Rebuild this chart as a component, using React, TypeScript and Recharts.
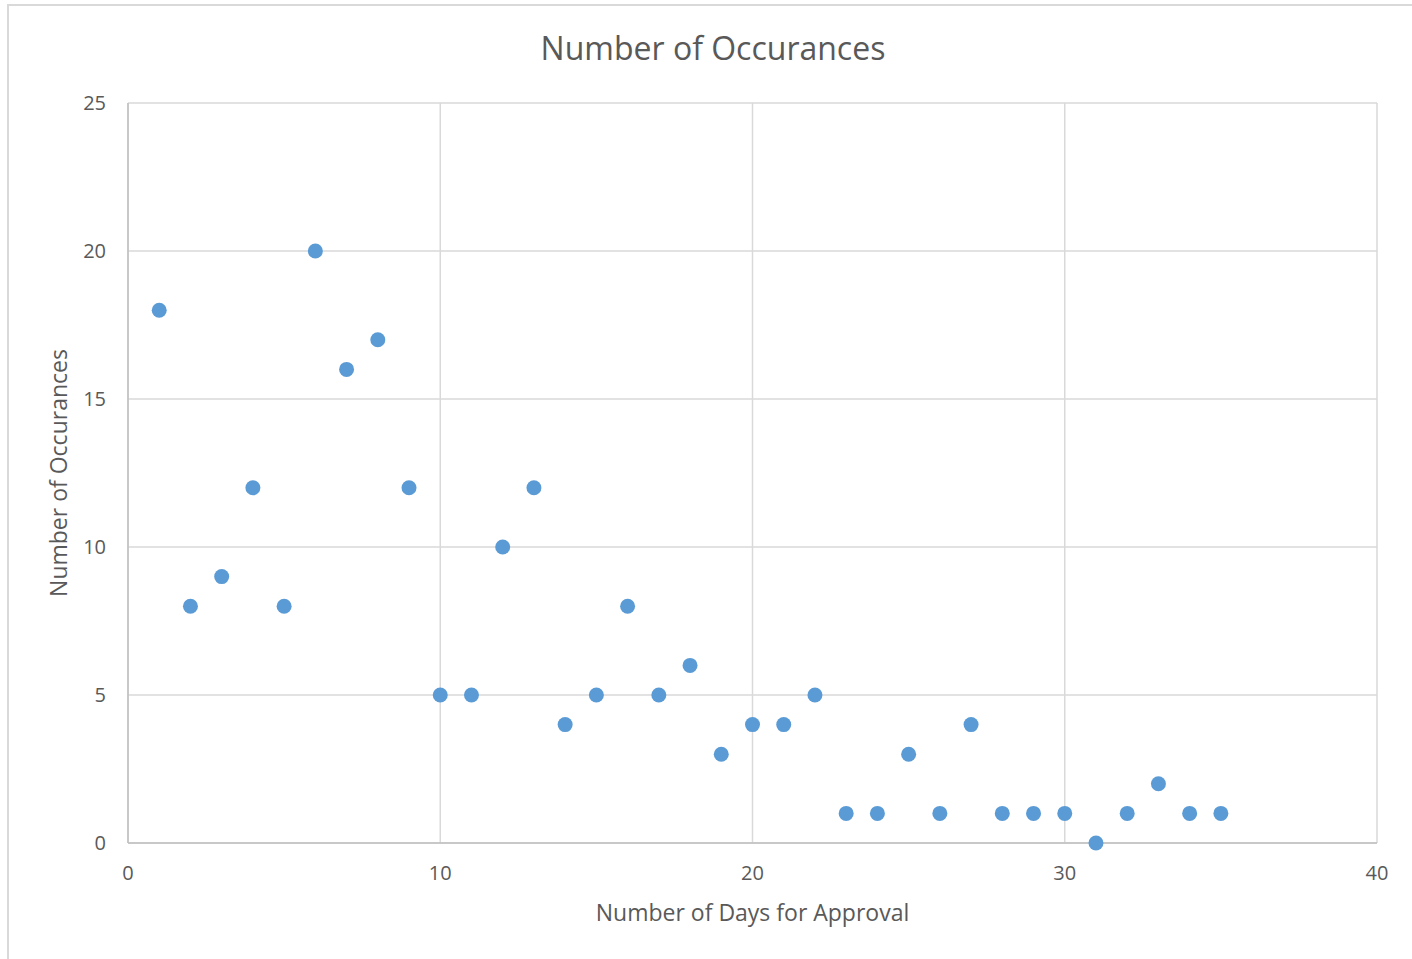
import React from "react";
import {
  ScatterChart,
  Scatter,
  XAxis,
  YAxis,
  CartesianGrid,
  Label,
} from "recharts";

const days = [
  1, 2, 3, 4, 5, 6, 7, 8, 9, 10, 11, 12, 13, 14, 15, 16, 17, 18, 19, 20, 21,
  22, 23, 24, 25, 26, 27, 28, 29, 30, 31, 32, 33, 34, 35,
];
const occurances = [
  18, 8, 9, 12, 8, 20, 16, 17, 12, 5, 5, 10, 12, 4, 5, 8, 5, 6, 3, 4, 4, 5, 1,
  1, 3, 1, 4, 1, 1, 1, 0, 1, 2, 1, 1,
];
const xTicks = [0, 10, 20, 30, 40];
const yTicks = [0, 5, 10, 15, 20, 25];

const data = days.map((d, i) => ({ days: d, count: occurances[i] }));

const font = "'Open Sans', sans-serif";
const textColor = "#595959";

const Dot = (props: any) => {
  const { cx, cy } = props;
  return <circle cx={cx} cy={cy} r={7.5} fill="#5b9bd5" />;
};

export default function App() {
  return (
    <div
      style={{
        position: "fixed",
        left: 0,
        top: 0,
        width: 1412,
        height: 959,
        background: "#fff",
        overflow: "hidden",
        fontFamily: font,
      }}
    >
      <div
        style={{
          position: "absolute",
          left: 7,
          top: 4,
          width: 1420,
          height: 970,
          border: "2px solid #d9d9d9",
          boxSizing: "border-box",
        }}
      />
      <div
        style={{
          position: "absolute",
          left: 0,
          width: 1426,
          top: 28,
          textAlign: "center",
          fontSize: 32,
          color: textColor,
          lineHeight: "40px",
        }}
      >
        Number of Occurances
      </div>
      <div style={{ position: "absolute", left: 0, top: 1 }}>
        <ScatterChart
          width={1412}
          height={958}
          margin={{ top: 102, right: 35, left: 68, bottom: 66 }}
        >
          <CartesianGrid stroke="#d9d9d9" strokeWidth={1.5} />
          <XAxis
            type="number"
            dataKey="days"
            domain={[0, 40]}
            ticks={xTicks}
            height={50}
            stroke="#bfbfbf"
            strokeWidth={1.5}
            tickLine={false}
            tickSize={0}
            tickMargin={23}
            tick={{ fill: textColor, fontSize: 20, fontFamily: font }}
          >
            <Label
              value="Number of Days for Approval"
              position="insideBottom"
              offset={-28}
              style={{ fill: textColor, fontSize: 23, fontFamily: font }}
            />
          </XAxis>
          <YAxis
            type="number"
            dataKey="count"
            domain={[0, 25]}
            ticks={yTicks}
            width={60}
            stroke="#bfbfbf"
            strokeWidth={1.5}
            tickLine={false}
            tickSize={0}
            tickMargin={22}
            tick={{ fill: textColor, fontSize: 20, fontFamily: font }}
          >
            <Label
              value="Number of Occurances"
              angle={-90}
              position="insideLeft"
              offset={-9}
              style={{
                fill: textColor,
                fontSize: 23,
                fontFamily: font,
                textAnchor: "middle",
              }}
            />
          </YAxis>
          <Scatter
            data={data}
            shape={Dot}
            isAnimationActive={false}
          />
        </ScatterChart>
      </div>
    </div>
  );
}
